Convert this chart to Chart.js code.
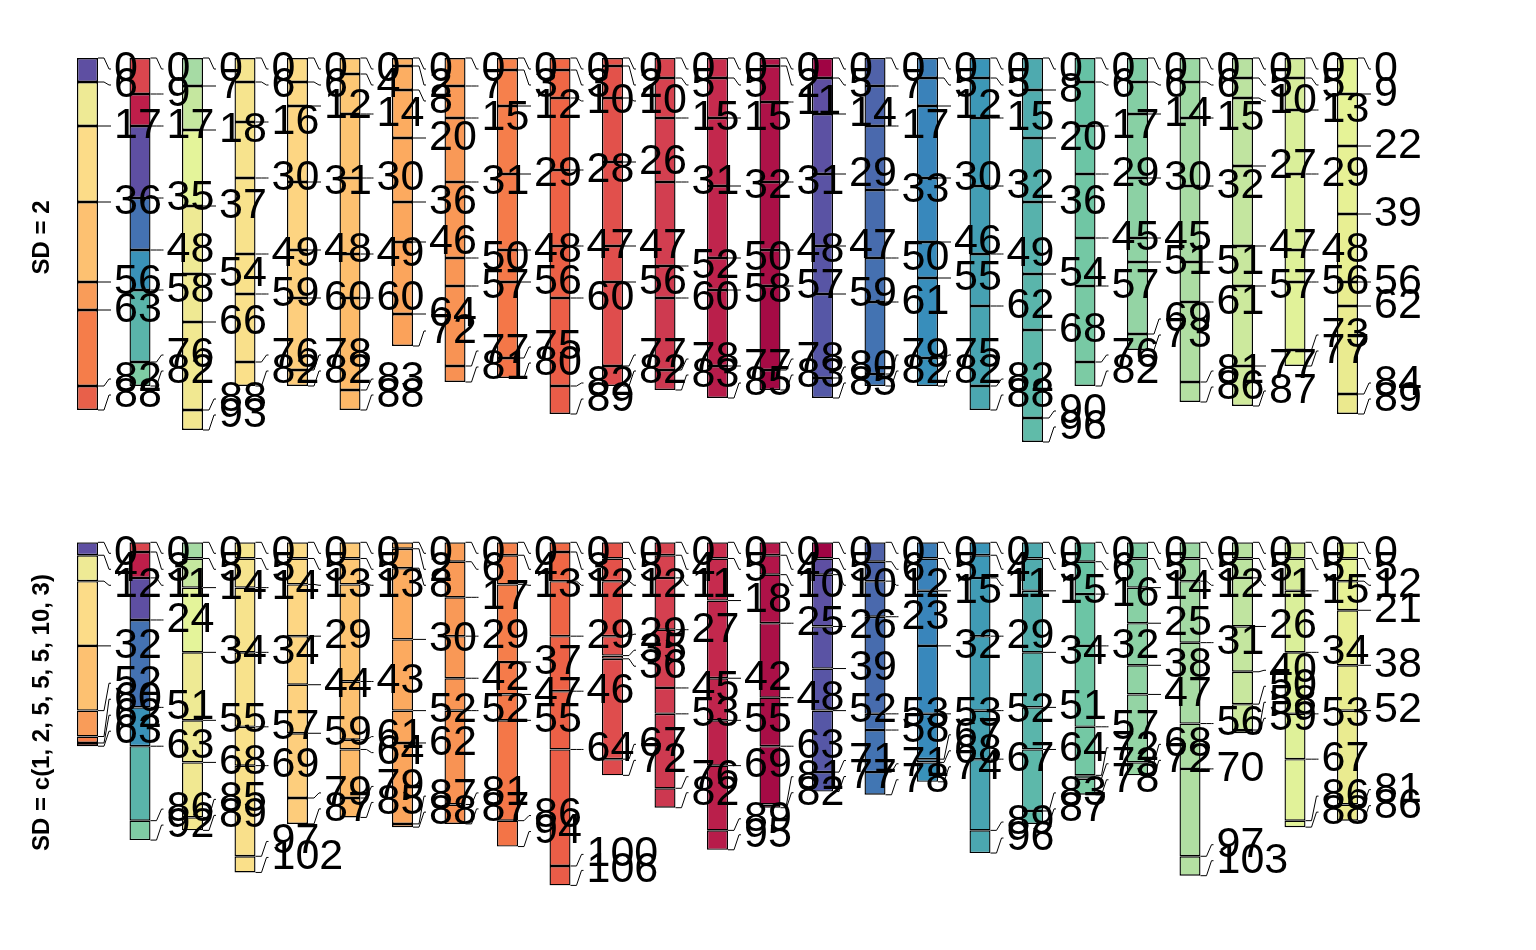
<!DOCTYPE html>
<html>
<head>
<meta charset="utf-8">
<script src="https://cdn.jsdelivr.net/npm/chart.js@4.4.1/dist/chart.umd.min.js"></script>
<style>
  html, body { margin: 0; padding: 0; background: #ffffff; }
  #wrap { position: relative; width: 1536px; height: 950px; overflow: hidden; }
  .panel { position: absolute; left: 0; width: 1536px; height: 475px; }
</style>
</head>
<body>
<div id="wrap">
  <div class="panel" style="top:0px"><canvas id="top" width="1536" height="475"></canvas></div>
  <div class="panel" style="top:475px"><canvas id="bottom" width="1536" height="475"></canvas></div>
</div>
<script>
// ---------- data ----------
const columnNames = ['1','2','3','4','5','6','7','8','9','10','11','12','13',
                     '14','15','16','17','18','19','20','21','22','23','24','25'];

const panelTitles = ['SD = 2', 'SD = c(1, 2, 5, 5, 5, 10, 3)'];

// boundaries (depths) of each column, panel "SD = 2"
const breaksSD2 = [
  [0,6,17,36,56,63,82,88],
  [0,9,17,35,48,58,76,82],
  [0,7,18,37,54,66,88,93],
  [0,6,16,30,49,59,76,82],
  [0,6,12,31,48,60,78,82],
  [0,4,14,30,49,60,83,88],
  [0,2,8,20,36,46,64,72],
  [0,7,15,31,50,57,77,81],
  [0,3,12,29,48,56,75,80],
  [0,3,10,28,47,60,82,89],
  [0,2,10,26,47,56,77,82],
  [0,5,15,31,52,60,78,83],
  [0,5,15,32,50,58,77,85],
  [0,2,11,31,48,57,78,83],
  [0,5,14,29,47,59,80,85],
  [0,7,17,33,50,61,79,82],
  [0,5,12,30,46,55,75,82],
  [0,5,15,32,49,62,82,88],
  [0,8,20,36,54,68,90,96],
  [0,6,17,29,45,57,76,82],
  [0,6,14,30,45,51,69,73],
  [0,6,15,32,51,61,81,86],
  [0,5,10,27,47,57,77,87],
  [0,5,13,29,48,56,73,77],
  [0,9,22,39,56,62,84,89]
];

// boundaries (depths) of each column, panel "SD = c(1, 2, 5, 5, 5, 10, 3)"
const breaksSDvar = [
  [0,4,12,32,52,60,62,63],
  [0,3,11,24,51,63,86,92],
  [0,5,14,34,55,68,85,89],
  [0,5,14,34,57,69,97,102],
  [0,5,13,29,44,59,79,87],
  [0,5,13,43,61,64,79,85],
  [0,2,8,30,52,62,87,88],
  [0,6,17,29,42,52,81,87],
  [0,4,13,37,47,55,86,94],
  [0,3,12,29,46,64,100,106],
  [0,5,12,29,35,36,67,72],
  [0,4,11,27,45,53,76,82],
  [0,5,18,42,55,69,89,95],
  [0,4,10,25,48,63,81,82],
  [0,5,10,26,39,52,71,77],
  [0,6,12,23,53,58,71,78],
  [0,5,15,32,53,67,68,74],
  [0,4,11,29,52,67,89,96],
  [0,5,15,34,51,64,83,87],
  [0,6,16,32,57,72,73,78],
  [0,5,14,25,38,47,68,72],
  [0,5,12,31,56,70,97,103],
  [0,5,11,26,40,50,58,59],
  [0,5,15,34,53,67,86,88],
  [0,5,12,21,38,52,81,86]
];

// fill colour of each segment (same in both panels)
const segmentColors = [
  ['#5E4FA2','#EEEA95','#FCDC88','#FDC171','#F99C59','#F57D4A','#E8604A'],
  ['#DA464E','#BE1E4A','#5E4FA2','#4472B2','#3A92B8','#5AB4AA','#7FCCA4'],
  ['#A6DBA4','#C5E79F','#E4F49A','#EEEA94','#EFE993','#F1E891','#F3E78F'],
  ['#F5E58F','#F6E48E','#F7E38D','#F8E28C','#F9E18B','#F9E08B','#FAE08A'],
  ['#FCDB87','#FCD985','#FDD683','#FDD481','#FDD17F','#FDCE7D','#FDCC7B'],
  ['#FDCA78','#FDC775','#FDC472','#FDC170','#FDBE6D','#FDBB6A','#FDB868'],
  ['#FCB164','#FCAE62','#FCAC60','#FCAA5F','#FBA75D','#FBA55C','#FBA25A'],
  ['#FA9E59','#FA9B58','#F99957','#F99856','#F99655','#F89354','#F89153'],
  ['#F6834D','#F6804C','#F57E4B','#F57B4A','#F47949','#F47748','#F37447'],
  ['#F06946','#EF6745','#EE6445','#ED6246','#EC6046','#EB5E47','#EA5C48'],
  ['#E45349','#E3524A','#E2514B','#E1504C','#E04E4C','#DF4D4D','#DE4B4D'],
  ['#D8444F','#D6424F','#D44050','#D23E50','#D03C50','#CE3A50','#CC3850'],
  ['#C92E4E','#C62B4E','#C3284D','#C0254D','#BD224C','#BA1F4B','#B71C4A'],
  ['#B5184A','#B11549','#AE1248','#AB1047','#A80E46','#A50B45','#A20844'],
  ['#A00444','#5E4FA2','#5C51A3','#5A53A4','#5855A5','#5657A6','#5459A7'],
  ['#5062A9','#4D65AB','#4A69AD','#476CAE','#4570B0','#4373B2','#4176B3'],
  ['#3C7EB8','#3A82BA','#3985BB','#3888BC','#388BBC','#388EBB','#3891BA'],
  ['#3A95B8','#3D98B7','#409BB5','#439EB4','#46A1B2','#48A4B1','#4BA7B0'],
  ['#4EAAAF','#51ACAE','#54AFAD','#57B2AC','#5AB5AB','#5DB8AA','#60BBA9'],
  ['#66C2A5','#69C4A5','#6CC5A5','#70C6A4','#74C8A4','#78C9A4','#7CCBA4'],
  ['#80CCA4','#84CEA4','#88D0A4','#8CD1A4','#90D3A4','#94D4A4','#98D6A4'],
  ['#9CD7A4','#A0D9A4','#A4DAA4','#A8DBA4','#ACDDA3','#B0DEA2','#B4E0A2'],
  ['#B8E1A1','#BCE3A0','#C0E4A0','#C4E69F','#C8E79E','#CCE99D','#D0EA9C'],
  ['#D4EC9C','#D7ED9B','#DAEF9A','#DDF09A','#DFF199','#E1F299','#E3F398'],
  ['#E5F498','#E6F397','#E7F195','#E8EF93','#E9ED91','#EAEB90','#EBE98E']
];

// ---------- helpers ----------
const LABEL_FONT = '43px "Liberation Sans", Arial, Helvetica, sans-serif';
const TITLE_FONT = 'bold 24px "Liberation Sans", Arial, Helvetica, sans-serif';

function spreadLabels(ys, lo, hi, minGap) {
  let p = ys.map(v => Math.min(Math.max(v, lo), hi));
  for (let it = 0; it < 300; it++) {
    let moved = false;
    for (let i = 1; i < p.length; i++) {
      const gap = p[i] - p[i - 1];
      if (gap < minGap - 0.01) {
        const push = (minGap - gap) / 2;
        p[i - 1] -= push;
        p[i] += push;
        moved = true;
      }
    }
    p = p.map(v => Math.min(Math.max(v, lo), hi));
    if (!moved) break;
  }
  return p;
}

const stratPlugin = {
  id: 'stratLabels',
  afterDatasetsDraw(chart, args, opts) {
    const ctx = chart.ctx;
    const yScale = chart.scales.y;
    const meta = chart.getDatasetMeta(0);
    ctx.save();
    ctx.strokeStyle = '#000';
    ctx.fillStyle = '#000';
    ctx.lineWidth = 1;
    ctx.font = LABEL_FONT;
    ctx.textAlign = 'left';
    ctx.textBaseline = 'middle';
    opts.breaks.forEach((b, ci) => {
      const bar = meta.data[ci];
      const right = bar.x + bar.width / 2;
      const ticks = b.map(v => yScale.getPixelForValue(v));
      const lo = ticks[0] + 11;
      const hi = ticks[ticks.length - 1] - 15;
      const pos = spreadLabels(ticks, lo, hi, 16);
      ticks.forEach((yt, i) => {
        const yl = pos[i];
        ctx.beginPath();
        ctx.moveTo(right, yt);
        ctx.lineTo(right + 6, yt);
        ctx.lineTo(right + 11, yl);
        ctx.lineTo(right + 13, yl);
        ctx.stroke();
      });
      ticks.forEach((yt, i) => {
        ctx.fillText(String(b[i]), right + 16, pos[i]);
      });
    });
    // rotated panel title
    ctx.font = TITLE_FONT;
    ctx.textAlign = 'center';
    ctx.textBaseline = 'middle';
    ctx.translate(42.5, chart.height / 2);
    ctx.rotate(-Math.PI / 2);
    ctx.fillText(opts.title, 0, 0);
    ctx.restore();
  }
};

function makePanel(canvasId, breaks, title, pad) {
  const nSeg = breaks[0].length - 1;
  const datasets = [];
  for (let j = 0; j < nSeg; j++) {
    datasets.push({
      label: 'segment ' + (j + 1),
      data: breaks.map(b => [b[j], b[j + 1]]),
      backgroundColor: segmentColors.map(c => c[j]),
      borderColor: '#000000',
      borderWidth: 1.4,
      borderSkipped: false,
      grouped: false,
      barPercentage: 0.4,
      categoryPercentage: 1.0
    });
  }
  const yMax = Math.max(...breaks.map(b => Math.max(...b)));
  return new Chart(document.getElementById(canvasId), {
    type: 'bar',
    data: { labels: columnNames, datasets },
    options: {
      responsive: false,
      animation: false,
      events: [],
      layout: { padding: pad },
      plugins: {
        legend: { display: false },
        tooltip: { enabled: false },
        title: { display: false },
        stratLabels: { breaks, title }
      },
      scales: {
        x: { type: 'category', display: false, offset: true, grid: { display: false } },
        y: { type: 'linear', display: false, min: 0, max: yMax, reverse: true, grid: { display: false } }
      }
    },
    plugins: [stratPlugin]
  });
}

makePanel('top', breaksSD2, panelTitles[0], { left: 61.25, right: 162.25, top: 58, bottom: 33 });
makePanel('bottom', breaksSDvar, panelTitles[1], { left: 61.25, right: 162.25, top: 67.3, bottom: 64.6 });
</script>
</body>
</html>
